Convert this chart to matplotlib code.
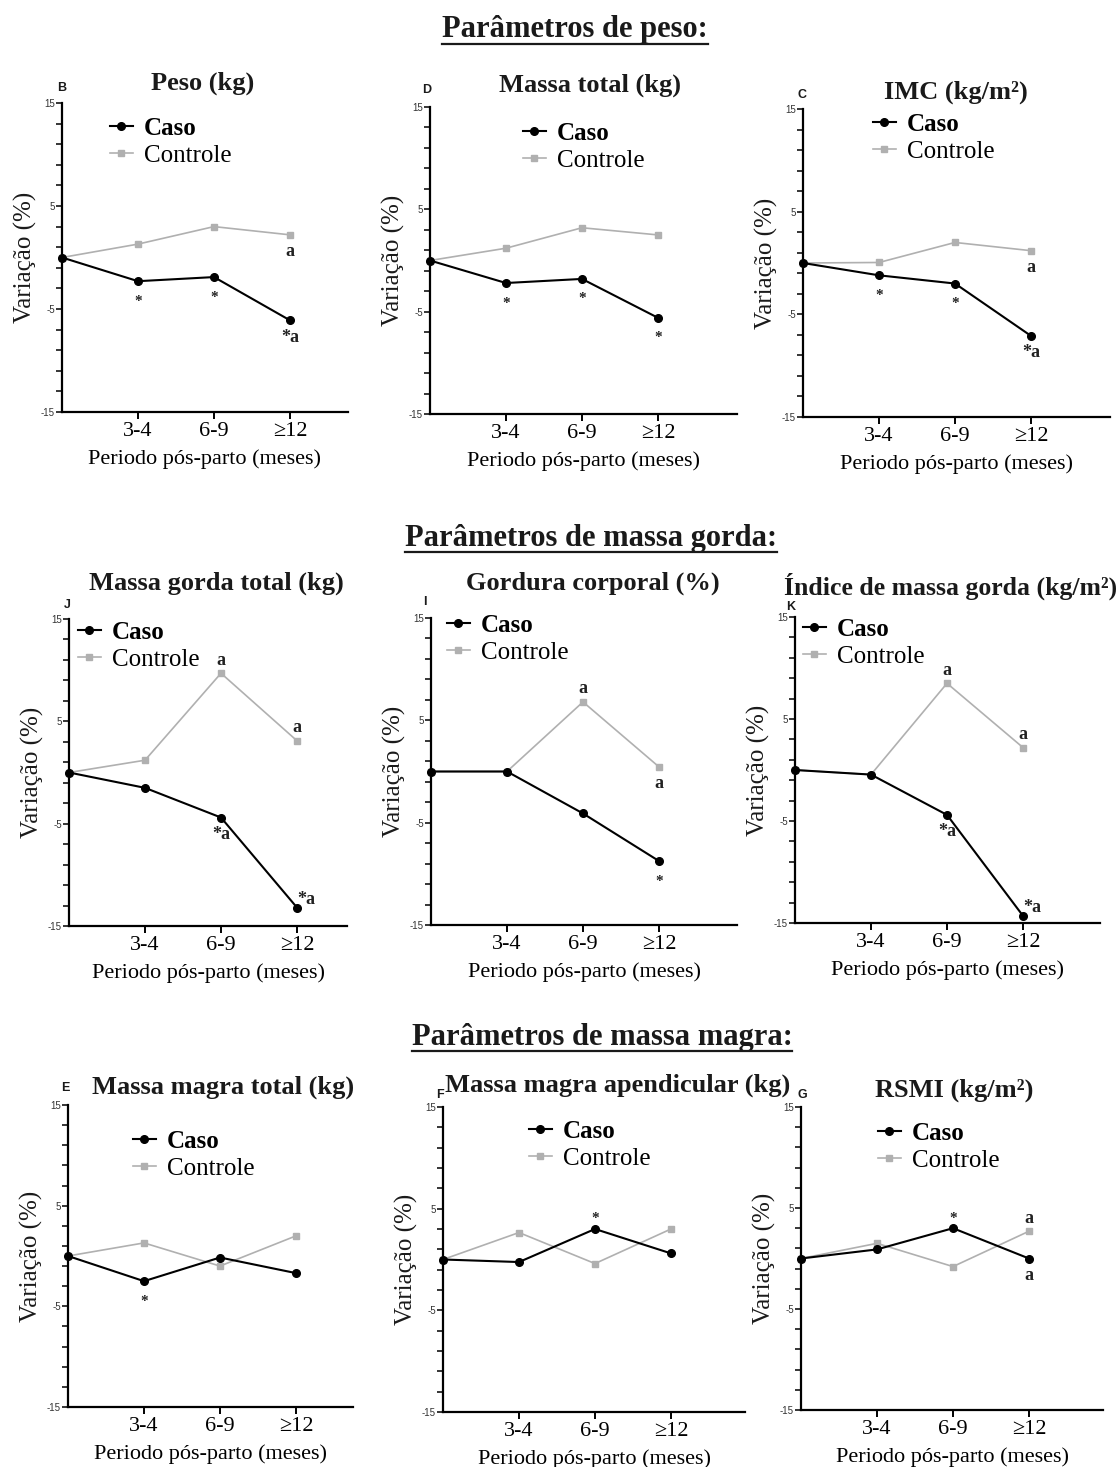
import matplotlib
matplotlib.use("Agg")
import matplotlib.pyplot as plt
from matplotlib.lines import Line2D

plt.rcParams["font.family"] = ["Liberation Serif", "DejaVu Serif"]

# --- data (variação % em relação ao basal) ---
periodos = ["3-4", "6-9", "≥12"]
x_pos = [0, 1, 2, 3]

peso_caso = [0, -2.3, -1.9, -6.1]
peso_ctrl = [0, 1.3, 3.0, 2.2]
massa_total_caso = [0, -2.2, -1.8, -5.6]
massa_total_ctrl = [0, 1.2, 3.2, 2.5]
imc_caso = [0, -1.2, -2.0, -7.1]
imc_ctrl = [0, 0.05, 2.0, 1.2]

mg_total_caso = [0, -1.5, -4.4, -13.2]
mg_total_ctrl = [0, 1.2, 9.7, 3.1]
gordura_caso = [0, 0, -4.1, -8.75]
gordura_ctrl = [0, 0, 6.8, 0.45]
img_caso = [0, -0.45, -4.4, -14.3]
img_ctrl = [0, -0.45, 8.5, 2.2]

mm_total_caso = [0, -2.5, -0.15, -1.7]
mm_total_ctrl = [0, 1.3, -1.0, 2.0]
mma_caso = [0, -0.25, 3.0, 0.6]
mma_ctrl = [0, 2.65, -0.4, 3.0]
rsmi_caso = [0, 0.9, 3.0, 0.0]
rsmi_ctrl = [0, 1.5, -0.8, 2.7]

# significance marks: (serie, indice, texto, onde)
peso_sig = [("caso", 1, "*", "below"), ("caso", 2, "*", "below"),
            ("caso", 3, "*a", "below"), ("ctrl", 3, "a", "below")]
massa_total_sig = [("caso", 1, "*", "below"), ("caso", 2, "*", "below"),
                   ("caso", 3, "*", "below")]
imc_sig = [("caso", 1, "*", "below"), ("caso", 2, "*", "below"),
           ("caso", 3, "*a", "below"), ("ctrl", 3, "a", "below")]
mg_total_sig = [("ctrl", 2, "a", "above"), ("ctrl", 3, "a", "above"),
                ("caso", 2, "*a", "below"), ("caso", 3, "*a", "right")]
gordura_sig = [("ctrl", 2, "a", "above"), ("ctrl", 3, "a", "below"),
               ("caso", 3, "*", "below")]
img_sig = [("ctrl", 2, "a", "above"), ("ctrl", 3, "a", "above"),
           ("caso", 2, "*a", "below"), ("caso", 3, "*a", "right")]
mm_total_sig = [("caso", 1, "*", "below")]
mma_sig = [("caso", 2, "*", "above")]
rsmi_sig = [("caso", 2, "*", "above"), ("ctrl", 3, "a", "above"),
            ("caso", 3, "a", "below")]

W, H = 1119, 1467
fig = plt.figure(figsize=(W / 100, H / 100), dpi=100)

# layout in pixels: axes box (l, t, r, b), title anchor, panel letter, legend top-left
panels = [
    ("Peso (kg)", "B", peso_caso, peso_ctrl, peso_sig, (62, 103, 348, 412), (203, 83, "center"), (62, 88), (110, 117)),
    ("Massa total (kg)", "D", massa_total_caso, massa_total_ctrl, massa_total_sig, (430, 107, 737, 414), (590, 85, "center"), (427, 90), (523, 122)),
    ("IMC (kg/m²)", "C", imc_caso, imc_ctrl, imc_sig, (803, 109, 1110, 417), (956, 92, "center"), (802, 95), (873, 113)),
    ("Massa gorda total (kg)", "J", mg_total_caso, mg_total_ctrl, mg_total_sig, (69, 619, 347, 926), (216, 583, "center"), (67, 605), (78, 621)),
    ("Gordura corporal (%)", "I", gordura_caso, gordura_ctrl, gordura_sig, (431, 618, 737, 925), (593, 583, "center"), (425, 602), (447, 614)),
    ("Índice de massa gorda (kg/m²)", "K", img_caso, img_ctrl, img_sig, (795, 617, 1100, 923), (1117, 586, "right"), (791, 607), (803, 618)),
    ("Massa magra total (kg)", "E", mm_total_caso, mm_total_ctrl, mm_total_sig, (68, 1105, 353, 1407), (223, 1087, "center"), (65, 1088), (133, 1130)),
    ("Massa magra apendicular (kg)", "F", mma_caso, mma_ctrl, mma_sig, (443, 1107, 745, 1412), (618, 1085, "center"), (440, 1095), (529, 1120)),
    ("RSMI (kg/m²)", "G", rsmi_caso, rsmi_ctrl, rsmi_sig, (801, 1107, 1103, 1410), (954, 1090, "center"), (802, 1095), (878, 1122)),
]

sections = [("Parâmetros de peso:", 575, 30),
            ("Parâmetros de massa gorda:", 591, 538),
            ("Parâmetros de massa magra:", 602, 1037)]

dark = "#1a1a1a"
grey = "#b0b0b0"
offsets = {"below": (0, -17), "above": (0, 13), "right": (9, 8)}

for title, letter, caso, ctrl, sig, box, tpos, lpos, legpos in panels:
    l, t, r, b = box
    ax = fig.add_axes([l / W, 1 - b / H, (r - l) / W, (b - t) / H])
    unit = (r - l) / 76.0
    ax.set_xlim(0, unit)
    ax.set_ylim(-15, 15)

    ax.plot(x_pos, ctrl, color=grey, lw=1.2, marker="s", ms=5, label="Controle", clip_on=False, zorder=3)
    ax.plot(x_pos, caso, color="black", lw=1.5, marker="o", ms=5.5, label="Caso", clip_on=False, zorder=4)

    for serie, i, txt, where in sig:
        y = caso[i] if serie == "caso" else ctrl[i]
        dx, dy = offsets[where]
        if txt == "*":
            dy = dy - 3
        ax.annotate(txt, (x_pos[i], y), xytext=(dx, dy), textcoords="offset pixels",
                    ha="center", va="center", fontsize=13 if "a" in txt else 11,
                    fontweight="bold", color="#222222")

    for side in ["top", "right"]:
        ax.spines[side].set_visible(False)
    for side in ["left", "bottom"]:
        ax.spines[side].set_linewidth(1.6)

    yt = list(range(-15, 16, 2))
    ax.set_yticks(yt)
    ax.set_yticklabels([str(v) if v in (-15, -5, 5, 15) else "" for v in yt],
                       family="Liberation Sans", fontsize=7, color="#333333")
    ax.tick_params(axis="y", direction="out", length=4, width=1.1, pad=1)
    ax.set_xticks([1, 2, 3])
    ax.set_xticklabels(periodos, fontsize=16)
    ax.tick_params(axis="x", direction="out", length=5, width=1.4, pad=2)

    ax.set_xlabel("Periodo pós-parto (meses)", fontsize=16, labelpad=6)
    ax.set_ylabel("Variação (%)", fontsize=18, va="center", color=dark)
    ax.yaxis.set_label_coords(-37 / (r - l), 0.5)

    handles, labels = ax.get_legend_handles_labels()
    leg = ax.legend(handles[::-1], labels[::-1], loc="upper left",
                    bbox_to_anchor=(legpos[0] / W, 1 - legpos[1] / H),
                    bbox_transform=fig.transFigure, frameon=False,
                    fontsize=18, handlelength=0.9, handletextpad=0.45,
                    labelspacing=0.18, borderpad=0, borderaxespad=0)
    leg.get_texts()[0].set_fontweight("bold")

    fig.text(tpos[0] / W, 1 - tpos[1] / H, title, ha=tpos[2], va="center",
             fontsize=18.5 if tpos[2] == "right" else 19, fontweight="bold", color=dark)
    fig.text(lpos[0] / W, 1 - lpos[1] / H, letter, ha="center", va="center",
             fontsize=9, fontweight="bold", family="Liberation Sans", color=dark)

# section headings with underline
heads = []
for txt, cx, cy in sections:
    heads.append(fig.text(cx / W, 1 - cy / H, txt, ha="center", va="center",
                          fontsize=22, fontweight="bold", color=dark))
fig.canvas.draw()
for h in heads:
    bb = h.get_window_extent()
    yl = (bb.y0 + 1) / H
    fig.add_artist(Line2D([bb.x0 / W, bb.x1 / W], [yl, yl], color=dark, lw=1.6,
                          transform=fig.transFigure))

fig.savefig("out.png", dpi=100)
